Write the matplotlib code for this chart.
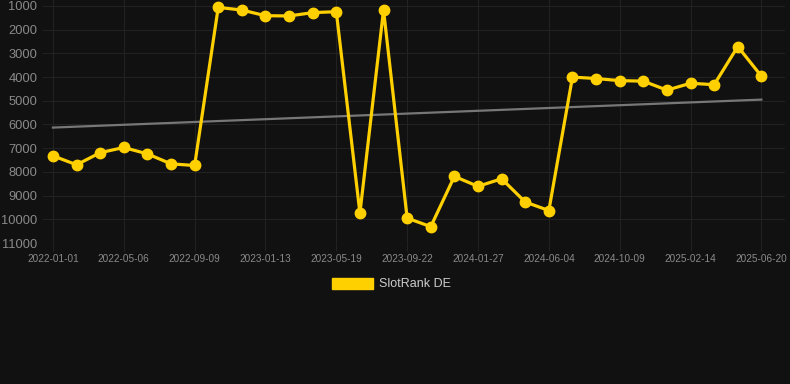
import numpy as np
import matplotlib
matplotlib.use("Agg")
import matplotlib.pyplot as plt
from matplotlib.patches import Rectangle

# === DATA ===
TICK_DATES = ["2022-01-01", "2022-05-06", "2022-09-09", "2023-01-13", "2023-05-19",
              "2023-09-22", "2024-01-27", "2024-06-04", "2024-10-09", "2025-02-14",
              "2025-06-20"]
RANK = [7320, 7700, 7190, 6970, 7240, 7660, 7730,
        1060, 1170, 1410, 1420, 1280, 1240,
        9740, 1170, 9950, 10310,
        8190, 8610, 8290, 9270, 9630,
        4000, 4060, 4150, 4170, 4550, 4260, 4320, 2710, 3960]
TREND = [6130, 4950]   # start / end of the grey trend line
SERIES_NAME = "SlotRank DE"

BG = "#111111"
GRID = "#222222"
YELLOW = "#FFD000"

plt.rcParams['font.family'] = ['Liberation Sans', 'DejaVu Sans']

fig = plt.figure(figsize=(7.9, 3.84), dpi=100, facecolor=BG)
ax = fig.add_axes([43/790, 1 - 243/384, 742/790, 243/384])
ax.set_facecolor(BG)

x = np.arange(len(RANK))
ax.plot([x[0], x[-1]], TREND, color="#777777", lw=1.6, zorder=2)
ax.plot(x, RANK, color=YELLOW, lw=2.3, marker="o", ms=7.5,
        solid_joinstyle="miter", zorder=3, clip_on=False)

ax.set_xlim(-0.42, 31.0)
ax.set_ylim(11000, 747)
ax.set_yticks(np.arange(1000, 11001, 1000))
ax.set_xticks(x[::3])
ax.set_xticklabels(TICK_DATES)

ax.grid(True, color=GRID, lw=0.8)
ax.set_axisbelow(True)
for s in ax.spines.values():
    s.set_visible(False)
ax.tick_params(axis="y", length=0, pad=4, labelsize=9.3, labelcolor="#8a8a8a")
ax.tick_params(axis="x", length=6, color=GRID, pad=2, labelsize=7.2, labelcolor="#8a8a8a")

# legend
fig.patches.append(Rectangle((332/790, 1 - 289/384), 41/790, 11/384,
                             transform=fig.transFigure, color=YELLOW))
fig.text(379/790, 1 - 284/384, SERIES_NAME, color="#cccccc", fontsize=9,
         va="center", ha="left")

fig.savefig("out.png", dpi=100, facecolor=BG)
